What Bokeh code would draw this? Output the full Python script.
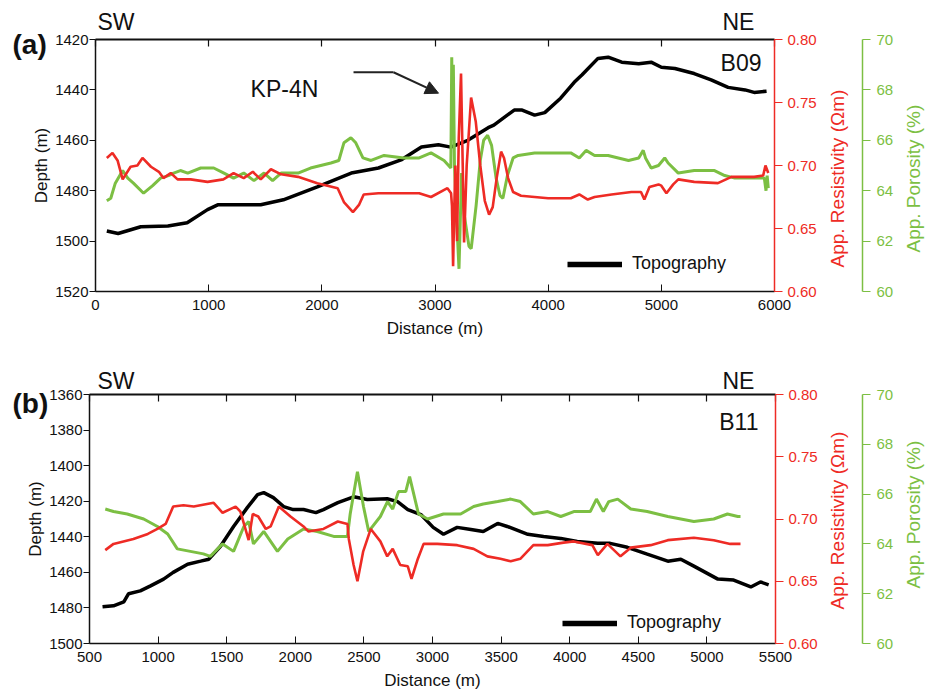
from bokeh.plotting import figure
from bokeh.models import (Range1d, LinearAxis, FixedTicker, NumeralTickFormatter,
                          Label, Arrow, NormalHead, Legend, LegendItem, Title)
from bokeh.layouts import column, row
from bokeh.embed import file_html
from bokeh.resources import INLINE

# ---------------- data: profile B09 (panel a) ----------------
topo_a_x = [100, 200, 400, 640, 810, 990, 1080, 1460, 1660, 1960,
            2260, 2500, 2700, 2880, 3030, 3140, 3290, 3470, 3520, 3700,
            3770, 3880, 3970, 4110, 4230, 4300, 4440, 4530, 4650, 4800,
            4910, 5000, 5120, 5290, 5440, 5590, 5740, 5820, 5930]
topo_a = [1496, 1497, 1494.3, 1494, 1492.7, 1487.5, 1485.6, 1485.6, 1483.6, 1478.5,
          1473, 1471, 1467.8, 1462.7, 1461.8, 1462.7, 1460, 1455, 1454, 1448,
          1448, 1450, 1449, 1443.3, 1437, 1434, 1427.5, 1427, 1429, 1429.6,
          1429, 1431, 1431.5, 1433.5, 1436, 1439, 1440, 1441, 1440.5]

res_a_x = [100, 150, 195, 240, 310, 370, 415, 490, 560, 600,
           665, 725, 840, 990, 1130, 1220, 1310, 1390, 1460, 1550,
           1640, 1790, 1960, 2140, 2195, 2275, 2330, 2370, 2500, 2670,
           2860, 2965, 3110, 3142, 3150, 3160, 3170, 3180, 3195, 3210,
           3230, 3245, 3257, 3280, 3319, 3360, 3400, 3440, 3478, 3510,
           3545, 3584, 3610, 3646, 3690, 3760, 3880, 4000, 4200, 4275,
           4350, 4410, 4560, 4735, 4820, 4850, 4895, 4975, 5000, 5045,
           5105, 5150, 5290, 5500, 5620, 5820, 5900, 5920, 5945]
res_a = [0.706, 0.710, 0.704, 0.689, 0.699, 0.700, 0.706, 0.699, 0.695, 0.690,
         0.694, 0.689, 0.689, 0.687, 0.689, 0.694, 0.690, 0.695, 0.689, 0.697,
         0.693, 0.691, 0.686, 0.682, 0.671, 0.663, 0.669, 0.677, 0.678, 0.678,
         0.678, 0.675, 0.682, 0.678, 0.668, 0.620, 0.665, 0.700, 0.640, 0.722,
         0.773, 0.700, 0.639, 0.700, 0.754, 0.735, 0.700, 0.672, 0.661, 0.667,
         0.690, 0.711, 0.706, 0.690, 0.679, 0.676, 0.675, 0.674, 0.674, 0.677,
         0.673, 0.675, 0.677, 0.679, 0.679, 0.673, 0.683, 0.685, 0.684, 0.678,
         0.685, 0.689, 0.687, 0.686, 0.691, 0.691, 0.692, 0.700, 0.694]

por_a_x = [100, 135, 175, 240, 285, 335, 425, 505, 575, 645,
           690, 750, 815, 930, 1045, 1135, 1220, 1310, 1400, 1490,
           1565, 1640, 1790, 1900, 2080, 2150, 2195, 2257, 2300, 2363,
           2435, 2550, 2725, 2860, 2965, 3080, 3140, 3148, 3155, 3162,
           3172, 3190, 3212, 3235, 3260, 3300, 3320, 3363, 3400, 3430,
           3465, 3500, 3540, 3575, 3600, 3640, 3690, 3735, 3880, 4030,
           4200, 4275, 4335, 4410, 4530, 4710, 4800, 4840, 4860, 4910,
           4975, 5030, 5060, 5150, 5290, 5470, 5560, 5650, 5820, 5910,
           5925, 5935, 5945]
por_a = [63.6, 63.7, 64.3, 64.8, 64.5, 64.3, 63.9, 64.2, 64.5, 64.6,
         64.7, 64.8, 64.7, 64.9, 64.9, 64.7, 64.5, 64.7, 64.4, 64.7,
         64.4, 64.7, 64.7, 64.9, 65.1, 65.2, 65.9, 66.1, 65.9, 65.3,
         65.2, 65.4, 65.3, 65.3, 65.5, 65.2, 64.9, 69.3, 66.0, 69.0,
         65.0, 63.0, 60.9, 64.7, 63.0, 61.8, 61.7, 63.4, 65.2, 66.0,
         66.2, 65.8, 64.5, 63.8, 63.7, 64.6, 65.3, 65.4, 65.5, 65.5,
         65.5, 65.3, 65.6, 65.4, 65.4, 65.2, 65.3, 65.6, 65.3, 64.9,
         65.0, 65.3, 65.1, 64.7, 64.8, 64.8, 64.6, 64.5, 64.5, 64.5,
         64.0, 64.6, 64.1]

# ---------------- data: profile B11 (panel b) ----------------
topo_b_x = [595, 675, 750, 785, 870, 945, 1040, 1110, 1215, 1310,
            1370, 1455, 1550, 1650, 1725, 1770, 1840, 1915, 1985, 2060,
            2150, 2205, 2310, 2425, 2525, 2670, 2745, 2820, 2915, 3005,
            3080, 3180, 3280, 3370, 3475, 3545, 3695, 3810, 3935, 4055,
            4205, 4295, 4420, 4565, 4715, 4810, 4905, 5080, 5195, 5320,
            5390, 5450]
topo_b = [1479.4, 1478.8, 1476.6, 1472, 1470.4, 1467.6, 1463.8, 1460, 1455.4, 1453.7,
          1452.6, 1445.3, 1434.2, 1423.6, 1416.3, 1415.2, 1418, 1423, 1424.7, 1424.7,
          1426.4, 1424.7, 1420.8, 1417.5, 1419, 1418.6, 1420.2, 1424.7, 1427.5, 1434.7,
          1438.6, 1434.7, 1435.9, 1437, 1432.5, 1434.2, 1438.6, 1439.8, 1440.9, 1442.6,
          1443.7, 1443.7, 1445.9, 1449.8, 1453.7, 1452.6, 1456.5, 1463.8, 1464.3, 1468.2,
          1465.4, 1467]

res_b_x = [615, 675, 820, 925, 995, 1055, 1110, 1185, 1260, 1405,
           1470, 1565, 1600, 1660, 1690, 1730, 1785, 1820, 1880, 1965,
           2060, 2095, 2205, 2310, 2380, 2390, 2425, 2453, 2495, 2550,
           2620, 2670, 2710, 2765, 2820, 2847, 2890, 2935, 3035, 3180,
           3300, 3400, 3495, 3570, 3640, 3735, 3840, 3955, 4030, 4165,
           4205, 4275, 4370, 4445, 4590, 4715, 4905, 5050, 5170, 5245]
res_b = [0.675, 0.680, 0.684, 0.688, 0.692, 0.696, 0.710, 0.711, 0.710, 0.713,
         0.705, 0.710, 0.706, 0.683, 0.704, 0.702, 0.692, 0.694, 0.710, 0.702,
         0.694, 0.690, 0.692, 0.698, 0.696, 0.684, 0.663, 0.650, 0.674, 0.692,
         0.682, 0.670, 0.676, 0.663, 0.662, 0.652, 0.667, 0.680, 0.680, 0.679,
         0.676, 0.670, 0.668, 0.666, 0.668, 0.679, 0.679, 0.681, 0.682, 0.679,
         0.671, 0.680, 0.670, 0.677, 0.679, 0.683, 0.685, 0.683, 0.680, 0.680]

por_b_x = [615, 675, 775, 895, 995, 1070, 1140, 1235, 1330, 1380,
           1470, 1550, 1625, 1660, 1695, 1770, 1870, 1945, 2060, 2160,
           2280, 2380, 2400, 2453, 2497, 2535, 2620, 2672, 2710, 2752,
           2805, 2833, 2898, 2965, 3080, 3205, 3300, 3370, 3475, 3570,
           3640, 3735, 3840, 3935, 4030, 4150, 4195, 4245, 4285, 4350,
           4445, 4565, 4715, 4810, 4905, 5050, 5150, 5225, 5245]
por_b = [65.4, 65.3, 65.2, 65.0, 64.7, 64.4, 63.8, 63.7, 63.6, 63.5,
         64.0, 63.7, 64.7, 64.9, 64.0, 64.5, 63.7, 64.2, 64.6, 64.5,
         64.3, 64.3, 65.2, 66.9, 65.5, 64.5, 65.1, 65.7, 65.4, 66.1,
         66.1, 66.7, 65.2, 65.0, 65.2, 65.2, 65.5, 65.6, 65.7, 65.8,
         65.7, 65.2, 65.3, 65.1, 65.3, 65.3, 65.8, 65.3, 65.7, 65.8,
         65.4, 65.3, 65.1, 65.0, 64.9, 65.0, 65.2, 65.1, 65.1]

# ticks
x_ticks_a = [0, 1000, 2000, 3000, 4000, 5000, 6000]
x_ticks_b = [500, 1000, 1500, 2000, 2500, 3000, 3500, 4000, 4500, 5000, 5500]
depth_ticks_a = [1420, 1440, 1460, 1480, 1500, 1520]
depth_ticks_b = [1360, 1380, 1400, 1420, 1440, 1460, 1480, 1500]
res_ticks = [0.60, 0.65, 0.70, 0.75, 0.80]
por_ticks = [60, 62, 64, 66, 68, 70]

FONT = "Liberation Sans"
RED = "#ee2b25"
GREEN = "#7cbf43"
INK = "#111111"
NBSP = "\u00a0"

# widths of the pieces of each row (main plot | resistivity title | porosity axis | porosity title)
W_MAIN, W_RT, W_PAX, W_PT = 824, 26, 51, 25


def blank_fig(width, H, top, bottom, left, right, y_range=None, y_loc=None):
    f = figure(width=width, height=H, output_backend="svg", toolbar_location=None,
               x_axis_location=None, y_axis_location=y_loc,
               y_range=y_range if y_range is not None else Range1d(0, 1),
               x_range=Range1d(0, 1),
               min_border_left=left, min_border_right=right,
               min_border_top=top, min_border_bottom=bottom)
    f.outline_line_color = None
    f.grid.visible = False
    return f


def make_panel(H, xr, yr, xticks, yticks, borders,
               tx, td, rx, rv, px, pv, legend_loc, title_offsets):
    left, right, top, bottom = borders
    p = figure(width=W_MAIN, height=H, x_range=Range1d(*xr), y_range=Range1d(*yr),
               output_backend="svg", toolbar_location=None,
               min_border_left=left, min_border_right=right,
               min_border_top=top, min_border_bottom=bottom)
    p.outline_line_color = None
    p.grid.visible = False
    p.extra_y_ranges = {"res": Range1d(0.60, 0.80), "por": Range1d(60, 70)}

    # left depth axis
    ya = p.yaxis[0]
    ya.ticker = FixedTicker(ticks=yticks)
    ya.axis_label = "Depth (m)"
    ya.axis_label_text_font = FONT
    ya.axis_label_text_font_style = "normal"
    ya.axis_label_text_font_size = "17px"
    ya.axis_label_text_color = INK
    ya.axis_label_standoff = 1
    ya.major_label_text_font = FONT
    ya.major_label_text_font_size = "15px"
    ya.major_label_text_color = INK
    ya.major_label_standoff = 1
    ya.major_tick_out = 6
    ya.major_tick_in = 0
    ya.minor_tick_line_color = None
    ya.axis_line_width = 1.5
    ya.axis_line_color = INK
    ya.major_tick_line_color = INK

    # bottom distance axis
    xa = p.xaxis[0]
    xa.ticker = FixedTicker(ticks=xticks)
    xa.axis_label = "Distance (m)"
    xa.axis_label_text_font = FONT
    xa.axis_label_text_font_style = "normal"
    xa.axis_label_text_font_size = "17px"
    xa.axis_label_text_color = INK
    xa.axis_label_standoff = 6
    xa.major_label_text_font = FONT
    xa.major_label_text_font_size = "15px"
    xa.major_label_text_color = INK
    xa.major_label_standoff = 8
    xa.major_tick_out = 0
    xa.major_tick_in = 7
    xa.minor_tick_line_color = None
    xa.axis_line_width = 1.5
    xa.axis_line_color = INK
    xa.major_tick_line_color = INK

    # top mirror axis: tick marks only (drawn as minor ticks, so no labels)
    ta = LinearAxis(ticker=FixedTicker(ticks=[], minor_ticks=xticks),
                    major_tick_out=0, major_tick_in=0,
                    minor_tick_out=0, minor_tick_in=7,
                    minor_tick_line_color=INK, minor_tick_line_width=1.2,
                    major_label_standoff=0, axis_line_width=2, axis_line_color=INK)
    p.add_layout(ta, "above")

    # resistivity axis (its title sits in the neighbouring piece of the row)
    ra = LinearAxis(y_range_name="res", ticker=FixedTicker(ticks=res_ticks),
                    formatter=NumeralTickFormatter(format="0.00"),
                    major_label_text_font=FONT, major_label_text_font_size="15px",
                    major_label_text_color=RED, major_label_standoff=5,
                    major_tick_out=8, major_tick_in=0, minor_tick_line_color=None,
                    axis_line_color=RED, axis_line_width=1.5, major_tick_line_color=RED)
    p.add_layout(ra, "right")

    # curves
    p.line(tx, td, line_color="black", line_width=3.5)
    p.line(px, pv, y_range_name="por", line_color=GREEN, line_width=3)
    p.line(rx, rv, y_range_name="res", line_color=RED, line_width=2.6)

    # legend key drawn with a thicker stroke, as in the original
    proxy = p.line(tx[:1], td[:1], line_color="black", line_width=5.5)
    leg = Legend(items=[LegendItem(label="Topography", renderers=[proxy])],
                 location=legend_loc, glyph_width=55, glyph_height=20,
                 label_height=20, label_standoff=10, padding=0, margin=0, spacing=0,
                 label_text_font=FONT, label_text_font_size="18px",
                 label_text_color=INK, border_line_color=None,
                 background_fill_alpha=0)
    p.add_layout(leg, "center")

    # resistivity title (reads bottom-to-top, as a left-side title of a thin piece)
    f_rt = blank_fig(W_RT, H, top, bottom, W_RT - 1, 0)
    f_rt.add_layout(Title(text="App. Resistivity (\u03a9m)", align="left",
                          offset=title_offsets[0], vertical_align="top", standoff=0,
                          text_font=FONT, text_font_size="19px",
                          text_font_style="normal", text_color=RED), "left")

    # porosity axis
    f_pax = blank_fig(W_PAX, H, top, bottom, 11, W_PAX - 12,
                      y_range=Range1d(60, 70), y_loc="right")
    pax = f_pax.yaxis[0]
    pax.ticker = FixedTicker(ticks=por_ticks)
    pax.major_label_text_font = FONT
    pax.major_label_text_font_size = "15px"
    pax.major_label_text_color = GREEN
    pax.major_label_standoff = 6
    pax.major_tick_out = 8
    pax.major_tick_in = 0
    pax.minor_tick_line_color = None
    pax.axis_line_color = GREEN
    pax.axis_line_width = 1.5
    pax.major_tick_line_color = GREEN

    # porosity title
    f_pt = blank_fig(W_PT, H, top, bottom, W_PT - 1, 0)
    f_pt.add_layout(Title(text="App. Porosity (%)", align="left",
                          offset=title_offsets[1], vertical_align="top", standoff=0,
                          text_font=FONT, text_font_size="19px",
                          text_font_style="normal", text_color=GREEN), "left")
    return p, [f_rt, f_pax, f_pt]


def add_headers(p, tag, tag_offset, tag_standoff, sw_offset, gap, sw_standoff):
    # panel tag, drawn over the top-left corner of the frame
    p.add_layout(Title(text=tag, align="left", offset=tag_offset, vertical_align="bottom",
                       standoff=tag_standoff, text_font=FONT, text_font_size="28px",
                       text_font_style="bold", text_color=INK), "above")
    # SW ... NE direction marks above the frame
    p.add_layout(Title(text="SW" + NBSP * gap + "NE", align="left", offset=sw_offset,
                       vertical_align="bottom", standoff=sw_standoff, text_font=FONT,
                       text_font_size="23px", text_font_style="normal",
                       text_color=INK), "above")


lab_kw = dict(text_font=FONT, text_color=INK, text_font_size="23px",
              text_baseline="alphabetic")

# ---------------- panel (a) ----------------
pa, side_a = make_panel(340, (0, 6000), (1520, 1420), x_ticks_a, depth_ticks_a,
                        (95, W_MAIN - 774, 39, 48), topo_a_x, topo_a, res_a_x, res_a,
                        por_a_x, por_a, (472, 17), (24, 39))
add_headers(pa, "(a)", -83, -40, 2, 92, 10)
pa.add_layout(Label(x=5885, y=1429.5, text="B09", text_align="right", **lab_kw))
pa.add_layout(Label(x=1370, y=1439.8, text="KP-4N", **lab_kw))
pa.line([2280, 2633], [1433, 1433], line_color="#222222", line_width=2)
pa.add_layout(Arrow(end=NormalHead(size=13, fill_color="#222222", line_color="#222222"),
                    x_start=2633, y_start=1433, x_end=3031, y_end=1441.3,
                    line_color="#222222", line_width=2))

# ---------------- panel (b) ----------------
pb, side_b = make_panel(352, (500, 5500), (1500, 1360), x_ticks_b, depth_ticks_b,
                        (89, W_MAIN - 775, 54, 47), topo_b_x, topo_b, res_b_x, res_b,
                        por_b_x, por_b, (473, 10), (34, 55))
add_headers(pb, "(b)", -77, -48, 8, 92, 2)
pb.add_layout(Label(x=5376, y=1375.7, text="B11", text_align="right", **lab_kw))

layout = column(row(pa, *side_a, spacing=0), row(pb, *side_b, spacing=0), spacing=0)
open("out.html", "w").write(file_html(layout, INLINE))
